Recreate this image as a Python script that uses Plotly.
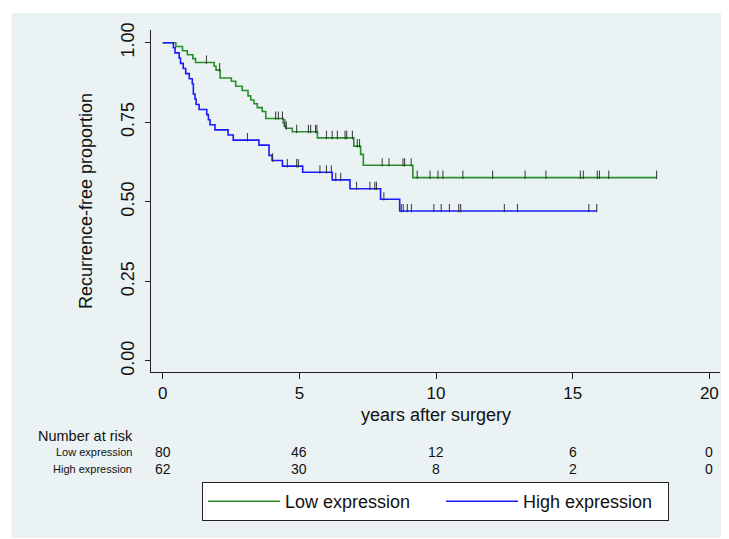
import numpy as np
import plotly.graph_objects as go

# ---- data ----
low_t = [0, 0.48, 0.72, 0.90, 1.10, 1.20, 1.88, 1.95, 2.10, 2.51, 2.67, 2.91, 3.12, 3.22,
         3.34, 3.46, 3.64, 3.77, 4.41, 4.45, 4.50, 4.74, 5.66, 6.99, 7.24, 7.34, 9.15, 18.07]
low_s = [1.0, 0.988, 0.975, 0.962, 0.950, 0.938, 0.926, 0.914, 0.889, 0.879, 0.863, 0.850,
         0.833, 0.820, 0.808, 0.796, 0.784, 0.762, 0.748, 0.738, 0.731, 0.720, 0.701, 0.675,
         0.649, 0.615, 0.576, 0.576]
low_censor = [1.60, 2.08, 4.13, 4.23, 4.38, 4.47, 4.52, 4.90, 5.33, 5.41, 5.59, 5.64, 5.99,
              6.20, 6.39, 6.67, 6.73, 6.94, 7.12, 7.20, 8.03, 8.28, 8.79, 8.85, 9.09, 9.31,
              9.78, 10.07, 10.25, 10.98, 12.07, 13.26, 14.02, 15.28, 15.39, 15.90, 15.98,
              16.32, 18.07]

high_t = [0, 0.39, 0.45, 0.60, 0.65, 0.75, 0.84, 0.97, 1.08, 1.12, 1.18, 1.22, 1.33, 1.61,
          1.67, 1.73, 1.91, 2.39, 2.58, 3.52, 3.89, 4.00, 4.38, 5.12, 6.20, 6.85, 7.97, 8.67,
          15.88]
high_s = [1.0, 0.984, 0.968, 0.952, 0.935, 0.919, 0.903, 0.887, 0.871, 0.839, 0.823, 0.806,
          0.790, 0.774, 0.758, 0.742, 0.726, 0.710, 0.694, 0.678, 0.646, 0.630, 0.612, 0.593,
          0.569, 0.541, 0.508, 0.471, 0.471]
high_censor = [3.10, 4.02, 4.56, 4.90, 4.96, 5.75, 5.99, 6.17, 6.33, 6.51, 7.09, 7.58, 7.76,
               7.82, 8.09, 8.73, 8.80, 8.95, 9.10, 9.92, 10.19, 10.49, 10.83, 10.90, 12.50,
               12.98, 15.59, 15.88]

risk_times = [0, 5, 10, 15, 20]
low_risk = [80, 46, 12, 6, 0]
high_risk = [62, 30, 8, 2, 0]

x_ticks = [0, 5, 10, 15, 20]
y_ticks = [0, 0.25, 0.5, 0.75, 1.0]
y_ticklabels = ["0.00", "0.25", "0.50", "0.75", "1.00"]

GREEN = "#2a8f2a"
BLUE = "#1a1aff"
BG = "#eaf2f3"
FONT = "Liberation Sans, Arial, sans-serif"


def level_at(times, surv, t):
    i = np.searchsorted(np.asarray(times), t, side="right") - 1
    return np.asarray(surv)[i]


fig = go.Figure()

for name, t, s, cens, col, lw in [
    ("Low expression", low_t, low_s, low_censor, GREEN, 151),
    ("High expression", high_t, high_s, high_censor, BLUE, 140),
]:
    fig.add_trace(go.Scatter(x=t, y=s, mode="lines", line=dict(color=col, width=1.6, shape="hv"),
                             name=name, showlegend=True, legendwidth=lw))
    cy = [float(level_at(t, s, c)) + 0.009 for c in cens]
    fig.add_trace(go.Scatter(x=cens, y=cy, mode="markers", showlegend=False, hoverinfo="skip",
                             marker=dict(symbol="line-ns", size=6,
                                         line=dict(color="rgba(40,40,40,0.85)", width=1.1))))

# axis title and number at risk table
ann = [dict(text="years after surgery", x=0.5, y=-0.1257, xref="paper", yref="paper",
            xanchor="center", yanchor="middle", showarrow=False, font=dict(size=18, color="#111")),
       dict(text="Number at risk", x=-0.028, y=-0.187, xref="paper", yref="paper",
            xanchor="right", yanchor="middle", showarrow=False, font=dict(size=14.5, color="#111")),
       dict(text="Low expression", x=-0.0296, y=-0.234, xref="paper", yref="paper",
            xanchor="right", yanchor="middle", showarrow=False, font=dict(size=11, color="#111")),
       dict(text="High expression", x=-0.0296, y=-0.2836, xref="paper", yref="paper",
            xanchor="right", yanchor="middle", showarrow=False, font=dict(size=11, color="#111"))]
for tx, lv, hv in zip(risk_times, low_risk, high_risk):
    ann.append(dict(text=str(lv), x=tx, y=-0.234, xref="x", yref="paper", xanchor="center",
                    yanchor="middle", showarrow=False, font=dict(size=14, color="#111")))
    ann.append(dict(text=str(hv), x=tx, y=-0.2836, xref="x", yref="paper", xanchor="center",
                    yanchor="middle", showarrow=False, font=dict(size=14, color="#111")))

fig.update_layout(
    width=721, height=531,
    margin=dict(l=143, r=9, t=22, b=167),
    paper_bgcolor="white",
    plot_bgcolor="white",
    font=dict(family=FONT, color="#111"),
    shapes=[dict(type="rect", xref="paper", yref="paper", x0=-0.245, x1=1.03, y0=-0.4854,
                 y1=1.0497, fillcolor=BG, line=dict(width=0), layer="below")],
    annotations=ann,
    xaxis=dict(range=[-0.43, 20.39], tickvals=x_ticks, ticktext=[str(v) for v in x_ticks],
               showgrid=False, zeroline=False, showline=True, linecolor="#222", linewidth=1,
               ticks="outside", ticklen=6, tickcolor="#222", tickfont=dict(size=17),
               ticklabelstandoff=0),
    yaxis=dict(range=[-0.035, 1.040], tickvals=y_ticks, ticktext=y_ticklabels, tickangle=-90,
               showgrid=True, gridcolor=BG, gridwidth=1.5, zeroline=False, showline=True,
               linecolor="#222", linewidth=1, ticks="outside", ticklen=5, tickcolor="#222",
               tickfont=dict(size=18), ticklabelstandoff=4,
               title=dict(text="Recurrence-free proportion", font=dict(size=18), standoff=20)),
    legend=dict(orientation="h", x=0.0896, xanchor="left", y=-0.322, yanchor="top",
                bordercolor="#222", borderwidth=1, bgcolor="white", font=dict(size=18),
                entrywidthmode="pixels", itemwidth=72),
)

fig.write_html("out.html")
